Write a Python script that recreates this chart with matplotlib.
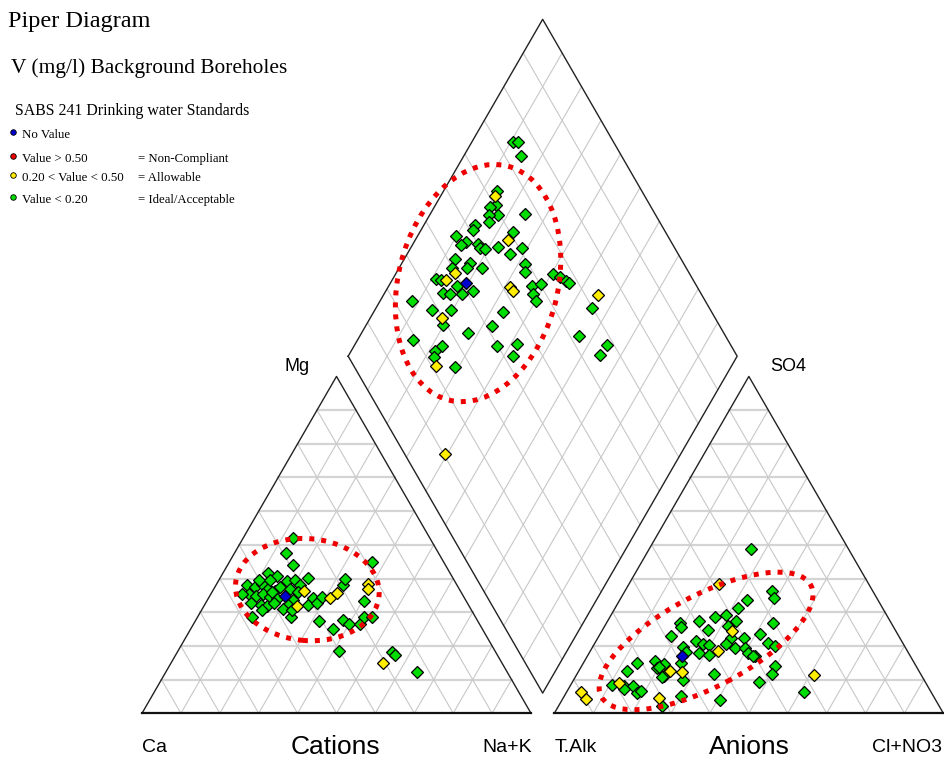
import numpy as np
import matplotlib
matplotlib.use("Agg")
import matplotlib.pyplot as plt
from matplotlib.patches import Ellipse

# Cation triangle (% meq): Mg and Na+K, Ca is the rest
cat_green_mg = [52.1, 47.7, 43.9, 44.9, 41.5, 40.7, 39.2, 39.5, 40.3, 38.0, 37.5, 38.5, 37.0, 36.3,
                37.5, 37.0, 35.3, 34.7, 35.5, 34.4, 33.8, 33.6, 32.8, 32.1, 31.8, 32.8, 32.1, 32.1,
                34.1, 32.8, 34.4, 38.0, 40.0, 33.3, 28.6, 28.6, 27.4, 25.0, 27.6, 26.4, 26.4, 28.6,
                28.6, 18.4, 18.2, 17.3, 12.3, 39.7, 39.5, 38.0, 31.1, 30.6, 35.5, 36.0, 30.8, 36.0]
cat_green_nak = [12.8, 13.1, 16.8, 36.8, 11.7, 14.4, 17.6, 19.6, 22.4, 7.9, 10.3, 11.5, 14.0, 16.0,
                 16.7, 19.5, 9.9, 11.9, 13.4, 15.7, 17.7, 21.9, 11.5, 14.5, 16.3, 17.5, 21.6, 26.5,
                 26.9, 28.7, 29.0, 32.7, 32.2, 40.4, 13.9, 24.0, 31.9, 36.5, 37.8, 40.1, 42.8, 42.8,
                 44.7, 41.5, 55.1, 56.4, 64.5, 10.3, 13.2, 21.6, 20.8, 15.5, 7.9, 22.2, 23.1, 15.3]
cat_yellow_mg = [36.3, 31.9, 34.1, 35.7, 38.5, 37.0, 14.8]
cat_yellow_nak = [23.6, 24.0, 31.3, 32.2, 38.9, 39.7, 54.6]
cat_blue_mg = [34.7]
cat_blue_nak = [19.4]

# Anion triangle (% meq): SO4 and Cl+NO3, T.Alk is the rest
an_green_so4 = [48.9, 36.3, 34.1, 33.6, 31.2, 28.7, 29.1, 27.5, 27.5, 24.8, 26.8, 25.7, 25.8, 26.8,
                23.5, 23.0, 22.5, 22.5, 21.5, 20.6, 20.3, 20.7, 19.4, 19.5, 21.0, 20.0, 19.8, 17.8,
                17.4, 16.9, 17.8, 18.3, 14.9, 15.6, 14.6, 13.3, 14.8, 11.2, 10.0, 12.6, 11.7, 14.1,
                11.8, 9.4, 6.2, 8.5, 8.2, 8.2, 7.2, 5.9, 6.7, 2.3, 5.0, 4.0, 10.7, 13.8, 17.1]
an_green_cl = [26.1, 37.8, 39.3, 32.7, 31.5, 26.9, 29.7, 33.0, 23.4, 27.0, 19.0, 19.7, 31.8, 42.7,
               41.1, 18.5, 34.1, 37.6, 25.7, 28.0, 29.7, 33.9, 36.7, 39.2, 44.3, 46.6, 23.1, 28.2,
               31.0, 43.2, 41.0, 24.7, 25.1, 18.1, 20.8, 19.7, 13.8, 22.7, 28.2, 12.4, 35.1, 49.8,
               50.0, 48.0, 61.0, 10.5, 13.7, 16.0, 14.4, 18.2, 18.9, 26.5, 30.0, 40.7, 22.3, 20.1, 42.4]
an_yellow_so4 = [38.5, 24.5, 18.6, 12.6, 12.4, 11.3, 9.0, 6.4, 4.1, 4.4]
an_yellow_cl = [23.0, 33.4, 32.9, 23.5, 26.6, 61.2, 12.2, 3.6, 6.1, 24.6]
an_blue_so4 = [17.1]
an_blue_cl = [24.2]

# Diamond: Na+K (%) and SO4+Cl+NO3 (%)
dia_green_nak = [10.5, 11.9, 14.7, 13.9, 15.7, 14.4, 17.6, 15.2, 16.3, 24.4, 13.3, 13.3, 23.9, 10.0,
                 13.3, 12.6, 16.7, 17.7, 19.2, 22.2, 28.8, 26.5, 12.9, 17.5, 17.6, 21.3, 13.5, 31.9,
                 33.0, 11.2, 12.7, 17.5, 15.0, 16.8, 20.1, 22.4, 36.8, 38.8, 38.3, 40.2, 40.4, 42.7,
                 44.8, 45.9, 55.5, 8.2, 14.7, 19.6, 19.7, 33.2, 32.5, 27.3, 14.2, 22.6, 21.5, 22.1,
                 28.9, 36.9, 41.6, 42.4, 56.3, 65.0, 64.5]
dia_green_c = [74.2, 75.4, 74.0, 62.8, 60.5, 58.7, 59.4, 57.0, 56.1, 66.7, 52.1, 50.8, 60.9, 45.6,
               47.1, 45.6, 50.0, 49.9, 51.0, 54.7, 60.8, 56.9, 41.8, 45.3, 43.7, 47.4, 39.7, 59.2,
               58.1, 34.2, 35.2, 38.4, 33.7, 35.4, 38.6, 41.7, 57.7, 60.1, 56.7, 56.5, 64.8, 66.1,
               67.0, 67.6, 69.8, 24.6, 28.5, 33.4, 29.1, 46.4, 41.4, 34.3, 19.1, 25.5, 23.0, 22.0,
               25.8, 39.8, 45.2, 42.6, 62.4, 68.3, 65.0]
dia_yellow_nak = [13.9, 23.8, 15.0, 13.9, 31.5, 32.7, 55.0, 18.4, 24.1, 39.3]
dia_yellow_c = [61.5, 58.3, 39.7, 36.6, 51.9, 52.0, 73.2, 29.8, 21.3, 10.3]
dia_blue_nak = [19.5]
dia_blue_c = [41.2]

legend_labels = ["No Value", "Value > 0.50", "0.20 < Value < 0.50", "Value < 0.20"]
legend_classes = ["", "= Non-Compliant", "= Allowable", "= Ideal/Acceptable"]
legend_colors = ["#0000cc", "#ee0000", "#ffee00", "#00dd00"]

H = np.sqrt(3) / 2
GAP = 0.06
OFF = 1 + GAP
W_PX, H_PX = 945, 760


def cat_xy(mg, nak):
    mg, nak = np.asarray(mg) / 100, np.asarray(nak) / 100
    return nak + mg / 2, mg * H


def an_xy(so4, cl):
    so4, cl = np.asarray(so4) / 100, np.asarray(cl) / 100
    return OFF + cl + so4 / 2, so4 * H


def dia_xy(nak, c):
    nak, c = np.asarray(nak) / 100, np.asarray(c) / 100
    return 0.5 * (OFF + c + nak), H * (OFF + c - nak)


fig = plt.figure(figsize=(9.45, 7.6), dpi=100)
ax = fig.add_axes([0, 0, 1, 1])
ax.set_xlim(-142 / 389, (W_PX - 142) / 389)
ax.set_ylim((713.3 - H_PX) / 389, 713.3 / 389)
ax.axis("off")

grid_kw = dict(color="#c8c8c8", lw=0.8, zorder=1)
hgrid_kw = dict(color="#d4d4d4", lw=1.6, zorder=1)
steps = np.arange(1, 10) / 10

# triangle grids
for x0 in (0, OFF):
    for f in steps:
        ax.plot([x0 + f / 2, x0 + 1 - f / 2], [f * H, f * H], **hgrid_kw)
        ax.plot([x0 + f, x0 + f + (1 - f) / 2], [0, (1 - f) * H], **grid_kw)
        ax.plot([x0 + f, x0 + f / 2], [0, f * H], **grid_kw)
    ax.plot([x0, x0 + 0.5, x0 + 1], [0, H, 0], color="#222222", lw=1.0, zorder=2)
    ax.plot([x0, x0 + 1], [0, 0], color="#111111", lw=1.6, zorder=2)

# diamond grid
for f in steps * 100:
    ax.plot(*dia_xy([f, f], [0, 100]), **grid_kw)
    ax.plot(*dia_xy([0, 100], [f, f]), **grid_kw)
ax.plot(*dia_xy([0, 100, 100, 0, 0], [0, 0, 100, 100, 0]), color="#222222", lw=1.0, zorder=2)

mk = dict(marker="D", ms=6.4, mec="black", mew=0.9, ls="none", zorder=4)
for xy_fn, groups in [
    (cat_xy, [(cat_green_mg, cat_green_nak, "#00dd00"), (cat_yellow_mg, cat_yellow_nak, "#ffee00"),
              (cat_blue_mg, cat_blue_nak, "#0000cc")]),
    (an_xy, [(an_green_so4, an_green_cl, "#00dd00"), (an_yellow_so4, an_yellow_cl, "#ffee00"),
             (an_blue_so4, an_blue_cl, "#0000cc")]),
    (dia_xy, [(dia_green_nak, dia_green_c, "#00dd00"), (dia_yellow_nak, dia_yellow_c, "#ffee00"),
              (dia_blue_nak, dia_blue_c, "#0000cc")]),
]:
    for a, b, col in groups:
        x, y = xy_fn(a, b)
        ax.plot(x, y, mfc=col, **mk)

# red dotted groupings
for (cx, cy), w, h, ang in [((0.864, 1.106), 0.41, 0.62, -14),
                            ((0.425, 0.318), 0.37, 0.262, -5),
                            ((1.450, 0.186), 0.61, 0.235, 28)]:
    ax.add_patch(Ellipse((cx, cy), w, h, angle=ang, fill=False, ec="#ee0000",
                         lw=3.6, ls=(0, (1, 1.4)), zorder=5))


def ptext(x, y, s, **kw):
    fig.text(x / W_PX, 1 - y / H_PX, s, **kw)


serif = "Liberation Serif"
sans = "Liberation Sans"
ptext(8, 26.7, "Piper Diagram", family=serif, size=17.5, va="baseline")
ptext(11, 72.7, "V (mg/l) Background Boreholes", family=serif, size=15.4, va="baseline")
ptext(15, 115, "SABS 241 Drinking water Standards", family=serif, size=11.4, va="baseline")
for i, (lab, cls, col) in enumerate(zip(legend_labels, legend_classes, legend_colors)):
    yb = [137.7, 162.3, 181, 202.7][i]
    ptext(22, yb, lab, family=serif, size=9.3, va="baseline")
    if cls:
        ptext(138, yb, cls, family=serif, size=9.2, va="baseline")
    fig.lines.append(plt.Line2D([13 / W_PX], [1 - (yb - 6) / H_PX], transform=fig.transFigure,
                                marker="o", ms=4, mfc=col, mec="black", mew=0.6, ls="none"))

ptext(297, 366, "Mg", family=sans, size=13, ha="center", va="center")
ptext(788, 366, "SO4", family=sans, size=13, ha="center", va="center")
ptext(142, 752, "Ca", family=sans, size=14, va="baseline")
ptext(335, 754, "Cations", family=sans, size=19, ha="center", va="baseline")
ptext(532, 752, "Na+K", family=sans, size=14, ha="right", va="baseline")
ptext(555, 752, "T.Alk", family=sans, size=14, va="baseline")
ptext(749, 754, "Anions", family=sans, size=19, ha="center", va="baseline")
ptext(942, 752, "Cl+NO3", family=sans, size=14, ha="right", va="baseline")

fig.savefig("out.png", dpi=100, facecolor="white")
